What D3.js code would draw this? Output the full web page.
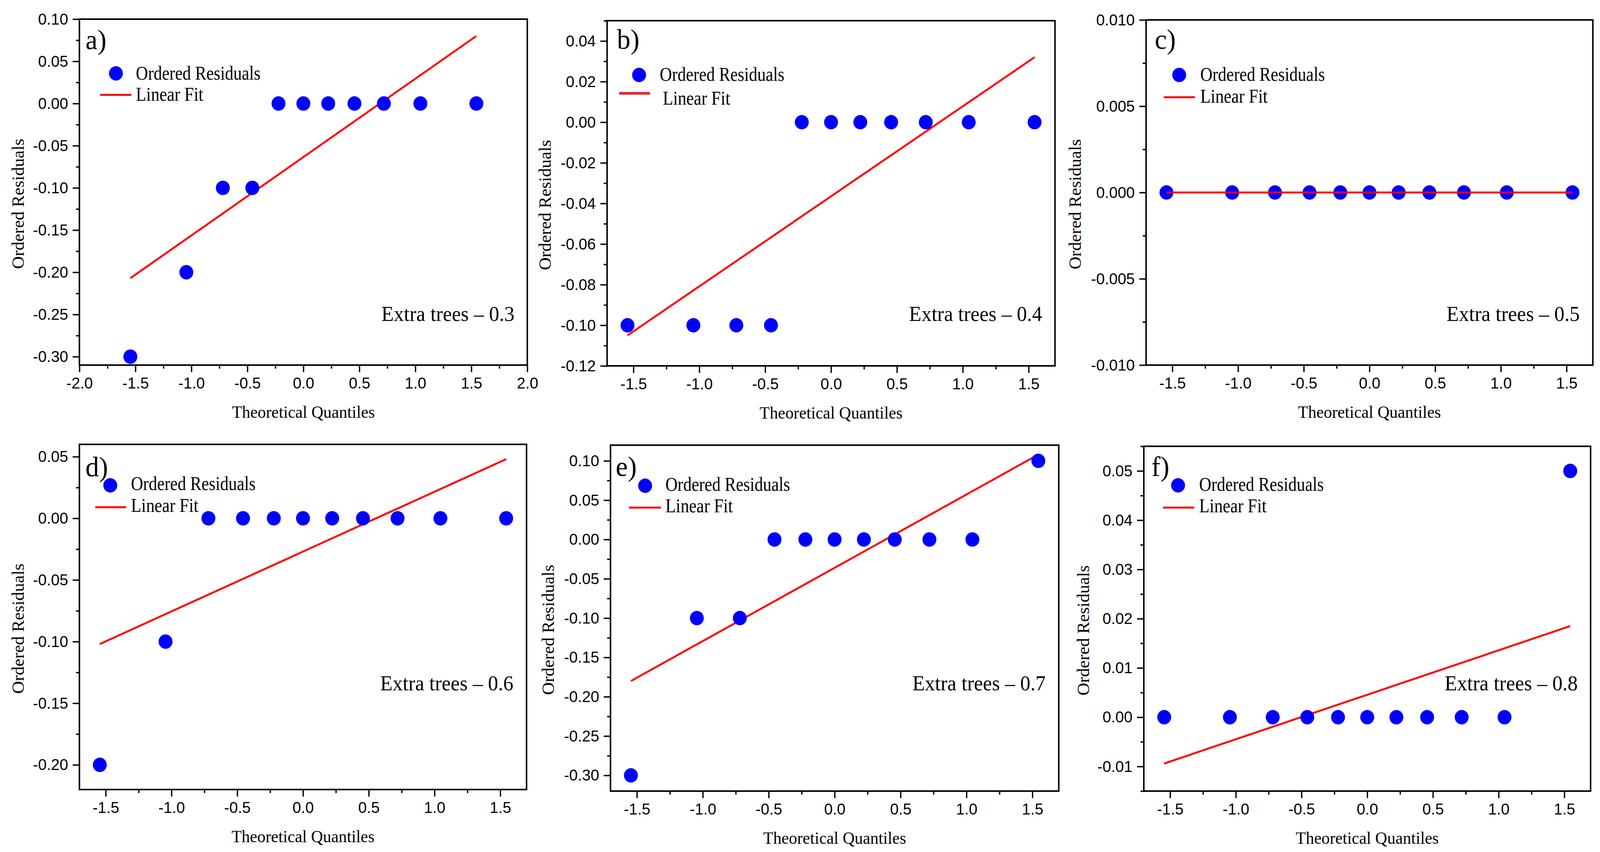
<!DOCTYPE html>
<html>
<head>
<meta charset="utf-8">
<script src="https://cdn.jsdelivr.net/npm/d3@7"></script>
<style>
  html, body { margin: 0; padding: 0; background: #fff; overflow: hidden; width: 100%; height: 100%; }
  svg { display: block; width: 100vw; height: 100vh; }
</style>
</head>
<body>
<script>
// theoretical quantiles, same for all panels
const quantiles = [-1.545, -1.045, -0.719, -0.456, -0.222, 0, 0.222, 0.456, 0.719, 1.045, 1.545];

// ordered residuals per panel
const residualsA = [-0.3, -0.2, -0.1, -0.1, 0, 0, 0, 0, 0, 0, 0];
const residualsB = [-0.1, -0.1, -0.1, -0.1, 0, 0, 0, 0, 0, 0, 0];
const residualsC = [0, 0, 0, 0, 0, 0, 0, 0, 0, 0, 0];
const residualsD = [-0.2, -0.1, 0, 0, 0, 0, 0, 0, 0, 0, 0];
const residualsE = [-0.3, -0.1, -0.1, 0, 0, 0, 0, 0, 0, 0, 0.1];
const residualsF = [0, 0, 0, 0, 0, 0, 0, 0, 0, 0, 0.05];

// linear fit value at first / last quantile
const fitA = [-0.207, 0.080];
const fitB = [-0.105, 0.032];
const fitC = [0, 0];
const fitD = [-0.102, 0.048];
const fitE = [-0.180, 0.108];
const fitF = [-0.0094, 0.0185];

// tick labels
const xTicksA = [-2.0, -1.5, -1.0, -0.5, 0.0, 0.5, 1.0, 1.5, 2.0];
const xTicks = [-1.5, -1.0, -0.5, 0.0, 0.5, 1.0, 1.5];
const yTicksA = [-0.30, -0.25, -0.20, -0.15, -0.10, -0.05, 0.00, 0.05, 0.10];
const yTicksB = [-0.12, -0.10, -0.08, -0.06, -0.04, -0.02, 0.00, 0.02, 0.04];
const yTicksC = [-0.010, -0.005, 0.000, 0.005, 0.010];
const yTicksD = [-0.20, -0.15, -0.10, -0.05, 0.00, 0.05];
const yTicksE = [-0.30, -0.25, -0.20, -0.15, -0.10, -0.05, 0.00, 0.05, 0.10];
const yTicksF = [-0.01, 0.00, 0.01, 0.02, 0.03, 0.04, 0.05];

const panelLabels = ['a)', 'b)', 'c)', 'd)', 'e)', 'f)'];
const panelNotes = ['Extra trees \u2013 0.3', 'Extra trees \u2013 0.4', 'Extra trees \u2013 0.5',
  'Extra trees \u2013 0.6', 'Extra trees \u2013 0.7', 'Extra trees \u2013 0.8'];

const W = 4251, H = 2182;
const serif = '"Liberation Serif", "Times New Roman", Times, serif';
const sans = '"Liberation Sans", Arial, Helvetica, sans-serif';

// box: [left, top, right, bottom]; legend offsets from box top-left
const panels = [
  { box: [211, 49, 1401, 935], xDom: [-2, 2], yDom: [-0.31, 0.10], xt: xTicksA, yt: yTicksA, dec: 2,
    res: residualsA, fit: fitA, yTitle: -148, lab: [16, 77], note: [-34, 773],
    leg: { mx: 97, my: 139, tx: 150, t1: 155, lx0: 55, lx1: 138, ly: 194, tx2: 150, t2: 209 } },
  { box: [1613, 53, 2803, 937], xDom: [-1.7, 1.7], yDom: [-0.12, 0.05], xt: xTicks, yt: yTicksB, dec: 2,
    res: residualsB, fit: fitB, yTitle: -150, lab: [26, 72], note: [-34, 769],
    leg: { mx: 85, my: 139, tx: 140, t1: 154, lx0: 35, lx1: 111, ly: 186, tx2: 148, t2: 215, color: '#e32636', w: 7, cap: 'round' } },
  { box: [3045, 51, 4232, 935], xDom: [-1.7, 1.7], yDom: [-0.01, 0.01], xt: xTicks, yt: yTicksC, dec: 3,
    res: residualsC, fit: fitC, yTitle: -173, lab: [23, 74], note: [-35, 771],
    leg: { mx: 88, my: 141, tx: 144, t1: 156, lx0: 47, lx1: 130, ly: 198, tx2: 144, t2: 212 } },
  { box: [211, 1138, 1399, 2022], xDom: [-1.7, 1.7], yDom: [-0.22, 0.06], xt: xTicks, yt: yTicksD, dec: 2,
    res: residualsD, fit: fitD, yTitle: -148, lab: [16, 82], note: [-35, 630],
    leg: { mx: 82, my: 105, tx: 137, t1: 117, lx0: 42, lx1: 124, ly: 161, tx2: 137, t2: 173 } },
  { box: [1622, 1140, 2813, 2026], xDom: [-1.7, 1.7], yDom: [-0.32, 0.12], xt: xTicks, yt: yTicksE, dec: 2,
    res: residualsE, fit: fitE, yTitle: -150, lab: [14, 79], note: [-35, 628],
    leg: { mx: 92, my: 104, tx: 146, t1: 117, lx0: 49, lx1: 134, ly: 160, tx2: 146, t2: 172 } },
  { box: [3039, 1143, 4226, 2026], xDom: [-1.7, 1.7], yDom: [-0.015, 0.055], xt: xTicks, yt: yTicksF, dec: 2,
    res: residualsF, fit: fitF, yTitle: -146, lab: [20, 76], note: [-34, 625],
    leg: { mx: 91, my: 100, tx: 147, t1: 114, lx0: 51, lx1: 134, ly: 157, tx2: 147, t2: 169 } }
];

const svg = d3.select('body').append('svg')
  .attr('viewBox', `0 0 ${W} ${H}`)
  .attr('preserveAspectRatio', 'none');
svg.append('rect').attr('width', W).attr('height', H).attr('fill', '#fff');

// midpoints between major ticks for the minor ticks
const minorOf = (ticks, dom) => {
  let step = ticks[1] - ticks[0];
  let out = [];
  for (let v = ticks[0] - step / 2; v <= dom[1] + 1e-9; v += step) {
    if (v >= dom[0] - 1e-9 && !ticks.some(t => Math.abs(t - v) < 1e-9)) out.push(v);
  }
  return out;
};

panels.forEach((p, i) => {
  let [L, T, R, B] = p.box;
  let w = R - L, h = B - T;
  let x = d3.scaleLinear().domain(p.xDom).range([0, w]);
  let y = d3.scaleLinear().domain(p.yDom).range([h, 0]);
  let g = svg.append('g').attr('transform', `translate(${L},${T})`);

  // minor ticks
  g.append('g')
    .attr('transform', `translate(0,${h})`)
    .call(d3.axisBottom(x).tickValues(minorOf(p.xt, p.xDom)).tickSize(9).tickFormat(''))
    .call(a => a.select('.domain').remove());
  g.append('g')
    .call(d3.axisLeft(y).tickValues(minorOf(p.yt, p.yDom)).tickSize(9).tickFormat(''))
    .call(a => a.select('.domain').remove());

  // major ticks + labels
  let xAxis = g.append('g')
    .attr('transform', `translate(0,${h})`)
    .call(d3.axisBottom(x).tickValues(p.xt).tickSize(18).tickPadding(13).tickFormat(d3.format('.1f')))
    .call(a => a.select('.domain').remove());
  let yAxis = g.append('g')
    .call(d3.axisLeft(y).tickValues(p.yt).tickSize(18).tickPadding(12).tickFormat(d3.format(`.${p.dec}f`)))
    .call(a => a.select('.domain').remove());
  [xAxis, yAxis].forEach(a => {
    a.selectAll('text')
      .attr('fill', '#000')
      .style('font-family', sans)
      .style('font-size', '41px')
      .text(function () { return d3.select(this).text().replace('\u2212', '-'); });
  });
  g.selectAll('.tick line').attr('stroke', '#000').attr('stroke-width', 3.5);

  // fit line
  let fitData = [[quantiles[0], p.fit[0]], [quantiles[quantiles.length - 1], p.fit[1]]];
  let fitPath = g.append('path')
    .datum(fitData)
    .attr('fill', 'none')
    .attr('stroke', '#ff0000')
    .attr('stroke-width', 5)
    .attr('d', d3.line().x(d => x(d[0])).y(d => y(d[1])));

  // points
  g.selectAll('circle.pt')
    .data(quantiles.map((q, k) => ({ q: q, r: p.res[k] })))
    .enter().append('circle')
    .attr('class', 'pt')
    .attr('cx', d => x(d.q))
    .attr('cy', d => y(d.r))
    .attr('r', 18.5)
    .attr('fill', '#0000ff');

  // in panel c the line sits on top of the points
  if (i === 2) fitPath.raise();

  // frame
  g.append('rect')
    .attr('width', w).attr('height', h)
    .attr('fill', 'none').attr('stroke', '#000').attr('stroke-width', 4);

  // legend
  let lg = p.leg;
  g.append('circle').attr('cx', lg.mx).attr('cy', lg.my).attr('r', 18.5).attr('fill', '#0000ff');
  g.append('line')
    .attr('x1', lg.lx0).attr('x2', lg.lx1).attr('y1', lg.ly).attr('y2', lg.ly)
    .attr('stroke', lg.color || '#ff0000')
    .attr('stroke-width', lg.w || 5)
    .attr('stroke-linecap', lg.cap || 'butt');
  g.append('text').attr('x', lg.tx).attr('y', lg.t1)
    .attr('textLength', 331).attr('lengthAdjust', 'spacingAndGlyphs')
    .style('font-family', serif).style('font-size', '50px').text('Ordered Residuals');
  g.append('text').attr('x', lg.tx2).attr('y', lg.t2)
    .attr('textLength', 179).attr('lengthAdjust', 'spacingAndGlyphs')
    .style('font-family', serif).style('font-size', '50px').text('Linear Fit');

  // panel letter
  g.append('text').attr('x', p.lab[0]).attr('y', p.lab[1])
    .style('font-family', serif).style('font-size', '72px').text(panelLabels[i]);

  // note
  g.append('text').attr('x', w + p.note[0]).attr('y', p.note[1])
    .attr('text-anchor', 'end')
    .style('font-family', serif).style('font-size', '54px').text(panelNotes[i]);

  // axis titles
  g.append('text')
    .attr('text-anchor', 'middle')
    .attr('transform', `translate(${w / 2},${h + 135})`)
    .style('font-family', serif).style('font-size', '44px')
    .text('Theoretical Quantiles');
  g.append('text')
    .attr('text-anchor', 'middle')
    .attr('transform', `translate(${p.yTitle},${h / 2 + 30}) rotate(-90)`)
    .style('font-family', serif).style('font-size', '45px')
    .text('Ordered Residuals');
});
</script>
</body>
</html>
